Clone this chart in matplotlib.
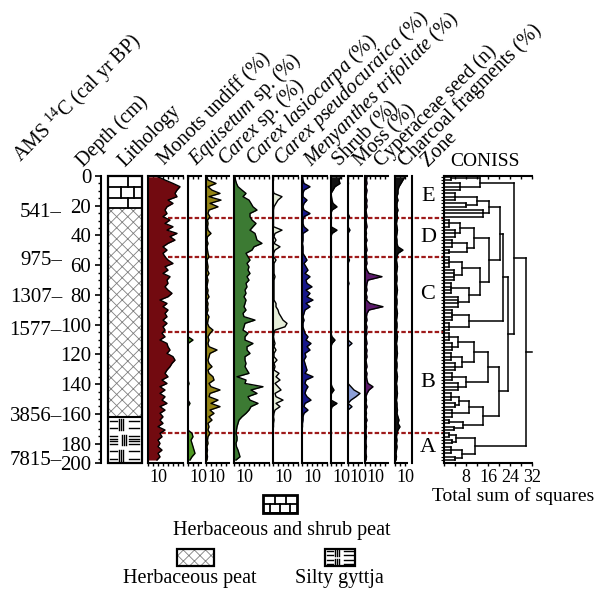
import numpy as np
import matplotlib
matplotlib.use('Agg')
import matplotlib.pyplot as plt
import matplotlib.transforms as mtransforms
from matplotlib.lines import Line2D
from matplotlib.patches import Rectangle
from matplotlib.ticker import MultipleLocator, FixedLocator

plt.rcParams['font.family'] = ['Liberation Serif', 'DejaVu Serif']
plt.rcParams['mathtext.fontset'] = 'custom'
plt.rcParams['mathtext.rm'] = 'Liberation Serif'
plt.rcParams['mathtext.it'] = 'Liberation Serif:italic'
plt.rcParams['hatch.linewidth'] = 0.6

# ---- data ----
sample_depth = np.round(np.linspace(0.5, 191, 86), 1)   # cm

monots = [10, 17, 25, 32, 29, 27, 29, 20, 25, 19,
          17, 19, 15, 22, 17, 25, 19, 29, 22, 27,
          20, 15, 19, 15, 17, 20, 25, 17, 20, 15,
          22, 19, 20, 17, 20, 24, 20, 12, 19, 15,
          20, 17, 19, 15, 19, 15, 17, 14, 17, 12,
          19, 20, 22, 19, 25, 27, 24, 22, 19, 17,
          20, 14, 19, 12, 17, 12, 17, 14, 19, 12,
          17, 12, 15, 12, 15, 10, 17, 12, 14, 10,
          12, 10, 14, 10, 12, 9]
equisetum = [0, 0, 0, 0, 0, 0, 0, 0, 0, 0,
             0, 0, 0, 0, 0, 0, 0, 0, 0, 0,
             0, 0, 0, 0, 0, 0, 0, 0, 0, 0,
             0, 0, 0, 0, 0, 0, 0, 0, 0, 0,
             0, 0, 0, 0, 0, 0, 0, 0, 0, 5,
             0, 0, 0, 0, 0, 0, 0, 0, 0, 0,
             0, 0, 1, 0, 0, 0, 0, 0, 2, 0,
             0, 0, 0, 0, 0, 0, 0, 4, 5, 3,
             4, 5, 6, 7, 4, 2]
carex_sp = [1, 2, 10, 2, 6, 14, 3, 15, 4, 12,
            3, 2, 4, 1.5, 2, 1.5, 2, 5, 1.5, 1,
            2, 1, 1.5, 2, 3, 1, 1.5, 2, 1.5, 3,
            1, 2, 1.5, 1, 2, 1.5, 3, 1, 2, 1.5,
            2, 1, 3, 2, 1.5, 3, 7, 4, 2, 3,
            2, 3, 11, 4, 3, 2, 3, 6, 2, 3,
            7, 8, 3, 5, 14, 4, 3, 12, 5, 14,
            4, 8, 3, 6, 2, 3, 2, 4, 2, 1.5,
            2, 1, 1.5, 1, 1.5, 1]
carex_lasiocarpa = [1, 1.5, 2.5, 4, 8, 12, 9, 15, 17, 19,
                    23, 16, 16, 18, 22, 19, 16, 21, 22, 23,
                    28, 20, 18, 12, 14, 16, 13, 15, 14, 16,
                    13, 15, 12, 13, 11, 12, 10, 12, 11, 10,
                    12, 9, 10, 21, 11, 10, 9, 14, 11, 11,
                    19, 13, 13, 16, 11, 11, 12, 11, 13, 15,
                    3, 12, 11, 29, 17, 23, 14, 16, 24, 17,
                    15, 12, 8, 5, 4, 3, 2.5, 2, 3, 3,
                    2, 2.5, 4, 5, 6, 2]
carex_pseudocuraica = [0, 0.5, 0, 0, 0, 1, 9, 5, 3, 1,
                       0.5, 0.5, 0.5, 0.5, 0.5, 0.5, 9, 2, 1, 3,
                       1, 7, 2, 0.5, 0.5, 3, 1, 1, 1, 1,
                       2, 1, 1, 1, 1, 1, 1, 1, 3, 3,
                       5, 6, 8, 10, 14, 12, 2, 1, 0.5, 1,
                       2, 1, 3, 1, 1, 4, 1, 2, 1, 6,
                       3, 7, 2, 5, 8, 2, 3, 10, 3, 7,
                       2, 1, 0.5, 1, 0.5, 0.5, 0, 0, 0, 0,
                       0, 0, 0, 0, 0, 0]
menyanthes = [0.5, 1, 2, 8, 2, 1, 1, 5, 2, 1,
              2, 8, 2, 1, 1, 2, 6, 1, 1, 1,
              0.5, 1, 1, 1, 3, 5, 2, 4, 6, 3,
              8, 4, 5, 10, 4, 8, 5, 11, 4, 8,
              3, 2, 1, 2, 1, 1, 2, 3, 6, 4,
              9, 5, 8, 3, 4, 2, 3, 4, 5, 3,
              11, 4, 3, 6, 4, 3, 5, 9, 3, 2,
              6, 2, 1, 1, 0.5, 0.5, 0, 0, 0, 0,
              0, 0, 0, 0, 0, 0]
shrub = [10, 8, 9, 4, 2, 0, 0.5, 1, 2, 6,
         1, 0, 0, 0, 0, 0, 6, 1, 0, 0,
         0, 0, 0, 0, 0, 0, 0, 0, 0, 0,
         0, 0, 0, 0, 0, 0, 0, 0, 0, 0,
         0, 0, 0, 0, 0, 0, 0, 0, 1, 4,
         1, 0, 0, 0, 0, 0, 0, 0, 0, 0,
         0, 0, 0, 1, 3, 0.5, 0, 0, 6, 1,
         0, 0, 0, 0, 0, 0, 0, 0, 0, 0,
         0, 0, 0, 0, 0, 0]
moss = [0, 0, 0.5, 0, 0, 0, 0, 0, 0, 0,
        0, 0, 1.5, 0, 0, 0, 2, 0, 0, 0,
        0, 0, 0, 0, 0, 1.5, 0, 0, 0, 0,
        0, 0, 1, 0, 0, 0, 0, 0, 0, 0,
        0, 0, 0, 0, 0, 0, 0, 0, 0, 0,
        4, 0, 0, 0, 0, 0, 0, 0, 0, 0,
        0, 0, 0, 3, 6, 12, 8, 3, 0, 4,
        0, 0, 0, 0, 0, 0, 0, 0, 0, 0,
        0, 0, 0, 0, 0, 0]
cyperaceae_seed = [2, 1.5, 2, 1, 2, 1.5, 1, 2, 1.5, 2,
                   1, 1.5, 2, 1, 1.5, 2, 1, 1.5, 1, 2,
                   1, 1.5, 2, 1, 2, 1.5, 2, 1, 2, 4,
                   17, 3, 2, 1.5, 2, 1, 2, 1.5, 5, 18,
                   4, 2, 1.5, 2, 1, 2, 1.5, 2, 1, 1.5,
                   2, 1, 2, 1.5, 2, 1, 1.5, 2, 1, 2,
                   1.5, 2, 3, 8, 4, 2, 1, 1.5, 1, 2,
                   1, 1.5, 1, 2, 1, 1.5, 1, 1, 1.5, 1,
                   1, 1.5, 1, 1, 1.5, 1]
charcoal = [10, 8, 6, 4, 3, 3, 2, 3, 2, 2,
            3, 2, 2.5, 2, 1.5, 2, 2.5, 2, 1.5, 2,
            2, 3, 8, 3, 2, 1.5, 2, 2.5, 2, 1.5,
            2, 2, 1.5, 2, 2.5, 2, 1.5, 2, 2, 1.5,
            2, 2.5, 2, 1.5, 2, 2, 1.5, 2, 2.5, 2,
            1.5, 2, 2, 2.5, 2, 1.5, 2, 2, 1.5, 2,
            2.5, 2, 1.5, 2, 2, 2.5, 2, 1.5, 2, 2,
            2.5, 2, 3, 4, 3, 5, 3, 2, 1.5, 2,
            1.5, 2, 1.5, 1, 1.5, 1]

depth_ticks = [0, 20, 40, 60, 80, 100, 120, 140, 160, 180, 193]
depth_labels = ['0', '20', '40', '60', '80', '100', '120', '140', '160', '180', '200']
ages = ['541', '975', '1307', '1577', '3856', '7815']
age_depths = [24.5, 57, 81.5, 104, 162, 191.5]

zone_names = ['E', 'D', 'C', 'B', 'A']
zone_bounds = [0, 28.2, 54.5, 105, 172.8, 193]

litho_bounds = [0, 21.7, 162, 193]   # shrub peat / herbaceous peat / silty gyttja

# CONISS tree: [height, children...]; (first, last, height) = group of samples
coniss_tree = [29.8,
    [25.3,
        [13.0, (0, 1, 2.5), (2, 4, 6.0)],
        [23.2,
            [21.3,
                [20.4,
                    [16.5, [12.0, (5, 7, 4.0), (8, 9, 8.0)], (10, 12, 14.0)],
                    [16.2,
                        [11.0, [6.0, (13, 15, 2.0), (16, 18, 4.0)],
                               [8.5, (19, 21, 3.0), (22, 23, 2.0)]],
                        [13.0, [6.5, (24, 27, 2.0), (28, 31, 3.5)],
                               [9.0, (32, 35, 2.5), (36, 39, 5.0)]]]],
                [9.0, (40, 43, 3.0), (44, 46, 2.0)]],
            [20.0,
                [16.0,
                    [11.0, [5.0, (47, 49, 2.0), (50, 52, 3.0)],
                           [6.5, (53, 55, 2.5), (56, 58, 4.0)]],
                    [8.0, (59, 61, 3.0), (62, 64, 5.0)]],
                [14.0,
                    [9.0, [5.5, (65, 67, 2.5), (68, 69, 4.0)], (70, 72, 3.0)],
                    [7.0, (73, 74, 2.0), (75, 76, 3.5)]]]]],
    [11.3, [4.5, (77, 78, 2.0), (79, 80, 3.0)], [6.5, (81, 83, 2.5), (84, 85, 4.0)]]]

# ---- layout (pixels) ----
W = H = 598
TOP, BOT = 176, 463
DMAX = 193
FS = 14.5

fig = plt.figure(figsize=(W / 100, H / 100), dpi=100)


def px_axes(x0, x1, y0=TOP, y1=BOT):
    ax = fig.add_axes([x0 / W, 1 - y1 / H, (x1 - x0) / W, (y1 - y0) / H])
    ax.set_facecolor('none')
    return ax


def ftext(x, y, s, **kw):
    return fig.text(x / W, 1 - y / H, s, **kw)


# depth axis
ax_d = px_axes(101, 106)
ax_d.set_ylim(DMAX, 0)
for s in ['right', 'top', 'bottom']:
    ax_d.spines[s].set_visible(False)
ax_d.spines['left'].set_linewidth(1.5)
ax_d.set_xticks([])
ax_d.set_yticks(depth_ticks)
ax_d.set_yticklabels(depth_labels, fontsize=15)
ax_d.yaxis.set_minor_locator(FixedLocator(np.arange(5, 191, 5)))
ax_d.tick_params(axis='y', which='major', direction='out', length=4, width=1.2, pad=3)
ax_d.tick_params(axis='y', which='minor', direction='out', length=2.5, width=1)

fig_y = mtransforms.blended_transform_factory(fig.transFigure, ax_d.transData)
for a, d in zip(ages, age_depths):
    fig.text(62 / W, d, a + '\u2013', transform=fig_y, ha='right', va='center', fontsize=15)

# lithology column
ax_l = px_axes(108, 142)
ax_l.set_xlim(0, 1)
ax_l.set_ylim(DMAX, 0)
ax_l.axis('off')
ax_l.add_patch(Rectangle((0, litho_bounds[1]), 1, litho_bounds[2] - litho_bounds[1], fill=False,
                         hatch='xxx', edgecolor='#7f7f7f', lw=0))


def bricks(ax, y0, y1, joints):
    n = len(joints)
    hgt = (y1 - y0) / n
    for k, js in enumerate(joints):
        ya, yb = y0 + k * hgt, y0 + (k + 1) * hgt
        ax.plot([0, 1], [yb, yb], color='k', lw=1.3)
        for j in js:
            ax.plot([j, j], [ya, yb], color='k', lw=1.3)


def gyttja(ax, y0, y1, nb):
    hb = (y1 - y0) / nb
    for k in range(nb):
        ya = y0 + k * hb
        mid = k == 1 and nb == 3
        nd = 4 if mid else 2
        for m in range(nd):
            yy = ya + hb * (0.25 + 0.5 * m / max(nd - 1, 1))
            ax.plot([0.06, 0.27], [yy, yy], color='k', lw=1.0)
            ax.plot([0.62, 0.92], [yy, yy], color='k', lw=1.0)
        vx = [0.40, 0.46, 0.52] if mid else [0.33, 0.39, 0.45]
        for v in vx:
            ax.plot([v, v], [ya + hb * 0.15, ya + hb * 0.85], color='k', lw=1.0)


bricks(ax_l, litho_bounds[0], litho_bounds[1], [[0.59], [0.37, 0.76], [0.59]])
gyttja(ax_l, litho_bounds[2], litho_bounds[3], 3)
ax_l.add_patch(Rectangle((0, 0), 1, DMAX, fill=False, edgecolor='k', lw=1.6, clip_on=False))
ax_l.plot([0, 1], [litho_bounds[2]] * 2, color='k', lw=1.5)

# taxa panels
panels = [
    (monots, '#720a10', 148, 183),
    (equisetum, '#4f9a22', 188, 201),
    (carex_sp, '#948414', 206, 229),
    (carex_lasiocarpa, '#3c7a33', 234, 269),
    (carex_pseudocuraica, '#e6eed9', 273, 298),
    (menyanthes, '#17178a', 302, 327),
    (shrub, '#111111', 331, 344),
    (moss, '#8c9fd8', 348, 362),
    (cyperaceae_seed, '#5c1a6c', 365, 388),
    (charcoal, '#111111', 395, 407),
]
for vals, col, x0, x1 in panels:
    ax = px_axes(x0, x1)
    ax.fill_betweenx(sample_depth, 0, vals, color=col, lw=0)
    ax.plot(vals, sample_depth, color='k', lw=1.0)
    ax.set_xlim(0, x1 - x0)
    ax.set_ylim(DMAX, 0)
    ax.spines['right'].set_visible(False)
    ax.spines['top'].set_visible(False)
    ax.spines['left'].set_linewidth(1.5)
    ax.spines['bottom'].set_linewidth(1.5)
    ax.set_yticks([])
    ax.set_xticks([10])
    ax.set_xticklabels(['10'], fontsize=13)
    ax.xaxis.set_minor_locator(MultipleLocator(5))
    ax.tick_params(axis='x', which='both', direction='out', length=2.5, width=1, pad=2)
    sec = ax.secondary_xaxis('top')
    sec.xaxis.set_major_locator(MultipleLocator(5))
    sec.tick_params(direction='in', length=2.5, width=1, labeltop=False)
    sec.spines['top'].set_linewidth(1.5)

# zone column line
fig.add_artist(Line2D([412 / W, 412 / W], [1 - TOP / H, 1 - BOT / H], color='k', lw=1.5))
for name, za, zb in zip(zone_names, zone_bounds[:-1], zone_bounds[1:]):
    fig.text(428 / W, (za + zb) / 2, name, transform=fig_y, ha='center', va='center', fontsize=16)
for zb in zone_bounds[1:-1]:
    fig.add_artist(Line2D([148 / W, 443 / W], [zb, zb], transform=fig_y, color='#9e1a1a',
                          lw=1.6, ls=(0, (2, 1)), zorder=-1))

# CONISS
ax_c = px_axes(444, 532)
ax_c.set_xlim(0, 32)
ax_c.set_ylim(DMAX, 0)
ax_c.spines['right'].set_visible(False)
ax_c.spines['top'].set_visible(False)
for s in ['left', 'bottom']:
    ax_c.spines[s].set_linewidth(1.5)
ax_c.set_xticks([8, 16, 24, 32])
ax_c.set_xticklabels(['8', '16', '24', '32'], fontsize=13)
ax_c.xaxis.set_minor_locator(MultipleLocator(4))
ax_c.tick_params(axis='x', which='both', direction='out', length=2.5, width=1, pad=2)
ax_c.set_yticks(sample_depth)
ax_c.set_yticklabels([])
ax_c.tick_params(axis='y', direction='out', length=2, width=0.8)
sec = ax_c.secondary_xaxis('top')
sec.xaxis.set_major_locator(MultipleLocator(4))
sec.tick_params(direction='in', length=2.5, width=1, labeltop=False)
sec.spines['top'].set_linewidth(1.5)


def draw_node(node):
    if isinstance(node, tuple):
        i0, i1, h = node
        ys = sample_depth[i0:i1 + 1]
        for y in ys:
            ax_c.plot([0, h], [y, y], color='k', lw=1.1)
        ax_c.plot([h, h], [ys[0], ys[-1]], color='k', lw=1.1)
        return (ys[0] + ys[-1]) / 2, h
    h = node[0]
    kids = [draw_node(c) for c in node[1:]]
    for y, hc in kids:
        ax_c.plot([hc, h], [y, y], color='k', lw=1.1)
    ys = [k[0] for k in kids]
    ax_c.plot([h, h], [min(ys), max(ys)], color='k', lw=1.1)
    return (min(ys) + max(ys)) / 2, h


root_y, root_h = draw_node(coniss_tree)
ax_c.plot([root_h, 32], [root_y, root_y], color='k', lw=1.1, clip_on=False)

ftext(485, 162, 'CONISS', ha='center', va='center', fontsize=14)
ftext(513, 496, 'Total sum of squares', ha='center', va='center', fontsize=14)

# rotated headers
headers = [
    (21, 163, 'AMS $^{14}$C (cal yr BP)'),
    (83, 167, 'Depth (cm)'),
    (125, 167, 'Lithology'),
    (165, 166, 'Monots undiff (%)'),
    (196, 166, r'$\mathit{Equisetum}$ sp. (%)'),
    (225, 166, r'$\mathit{Carex}$ sp. (%)'),
    (253, 166, r'$\mathit{Carex\ lasiocarpa}$ (%)'),
    (281, 166, r'$\mathit{Carex\ pseudocuraica}$ (%)'),
    (311, 167, r'$\mathit{Menyanthes\ trifoliate}$ (%)'),
    (340, 167, 'Shrub (%)'),
    (361, 167, 'Moss (%)'),
    (381, 167, 'Cyperaceae seed (n)'),
    (405, 167, 'Charcoal fragments (%)'),
    (428, 167, 'Zone'),
]
for x, y, s in headers:
    ftext(x, y, s, rotation=45, rotation_mode='anchor', ha='left', va='baseline', fontsize=FS)

# legend
def legend_box(x0, x1, y0, y1):
    ax = fig.add_axes([x0 / W, 1 - y1 / H, (x1 - x0) / W, (y1 - y0) / H])
    ax.set_xlim(0, 1)
    ax.set_ylim(1, 0)
    ax.axis('off')
    return ax


lb = legend_box(263, 297, 495, 513)
bricks(lb, 0, 1, [[0.36, 0.69], [0.2, 0.5, 0.8]])
lb.add_patch(Rectangle((0, 0), 1, 1, fill=False, edgecolor='k', lw=2, clip_on=False))
ftext(282, 530, 'Herbaceous and shrub peat', ha='center', va='center', fontsize=FS)

lh = legend_box(177, 214, 549, 566)
lh.add_patch(Rectangle((0, 0), 1, 1, fill=False, hatch='xxx', edgecolor='#7f7f7f', lw=0))
lh.add_patch(Rectangle((0, 0), 1, 1, fill=False, edgecolor='k', lw=1.6, clip_on=False))
ftext(190, 578, 'Herbaceous peat', ha='center', va='center', fontsize=FS)

lg = legend_box(325, 355, 549, 566)
gyttja(lg, 0, 1, 2)
lg.add_patch(Rectangle((0, 0), 1, 1, fill=False, edgecolor='k', lw=1.6, clip_on=False))
ftext(339, 578, 'Silty gyttja', ha='center', va='center', fontsize=FS)

fig.savefig('out.png', dpi=100)
